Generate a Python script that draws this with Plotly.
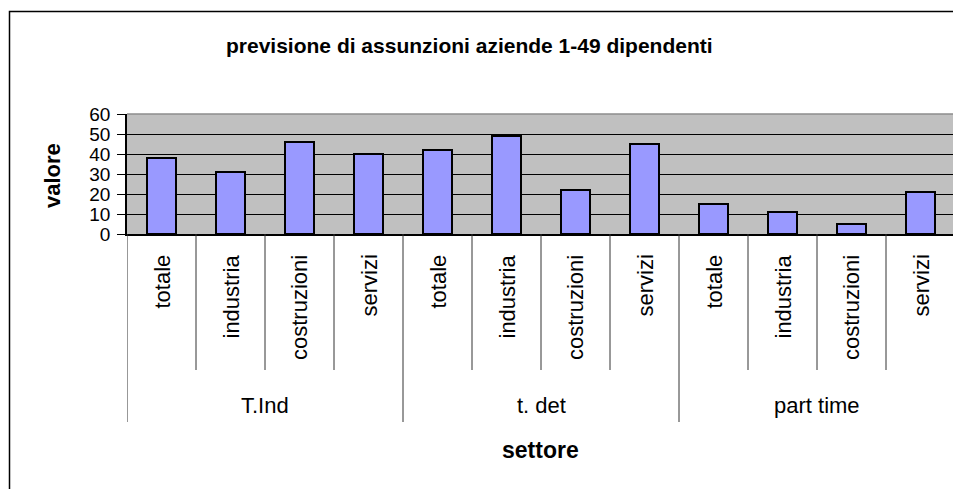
import plotly.graph_objects as go

groups = ["T.Ind", "t. det", "part time"]
sectors = ["totale", "industria", "costruzioni", "servizi"]
values = [38, 31, 46, 40, 42, 49, 22, 45, 15, 11, 5, 21]
y_ticks = [0, 10, 20, 30, 40, 50, 60]

FONT = "Arial, 'Liberation Sans', sans-serif"
OFF = 8  # page body margin offset
W, H = 961 - OFF, 489 - OFF
L, R, T = 127 - OFF, 6, 114 - OFF
PW = W - L - R
PH = 120
B = H - T - PH

def px_x(px):
    return (px - OFF - L) / PW

def px_y(py):
    return (T + PH - (py - OFF)) / PH

n = len(groups) * len(sectors)
xs = list(range(n))

fig = go.Figure()
fig.add_trace(go.Bar(
    x=xs, y=values, width=0.43,
    marker=dict(color="#9999FF", line=dict(color="black", width=2)),
    hoverinfo="y",
))

annotations = []
shapes = []

# sub-category labels and dividers
for i in range(n):
    annotations.append(dict(
        x=i, xref="x", y=px_y(253), yref="paper",
        text=sectors[i % len(sectors)], textangle=-90,
        showarrow=False, xanchor="center", yanchor="top",
        font=dict(family=FONT, size=22, color="black"),
    ))
for i in range(n + 1):
    is_group = (i % len(sectors) == 0)
    shapes.append(dict(
        type="line", xref="x", yref="paper",
        x0=i - 0.5, x1=i - 0.5,
        y0=px_y(234), y1=px_y(422 if is_group else 370),
        line=dict(color="#333333", width=1),
    ))
# group labels
for g, name in enumerate(groups):
    cx = g * len(sectors) + (len(sectors) - 1) / 2
    annotations.append(dict(
        x=cx, xref="x", y=px_y(405), yref="paper",
        text=name, showarrow=False, xanchor="center", yanchor="middle",
        font=dict(family=FONT, size=22, color="black"),
    ))

# axis titles and chart title
annotations.append(dict(
    x=px_x(540), xref="paper", y=px_y(450), yref="paper",
    text="<b>settore</b>", showarrow=False, xanchor="center", yanchor="middle",
    font=dict(family=FONT, size=23, color="black"),
))
annotations.append(dict(
    x=px_x(52), xref="paper", y=px_y(176), yref="paper",
    text="<b>valore</b>", textangle=-90, showarrow=False,
    xanchor="center", yanchor="middle",
    font=dict(family=FONT, size=22, color="black"),
))
annotations.append(dict(
    x=px_x(469), xref="paper", y=px_y(45), yref="paper",
    text="<b>previsione di assunzioni aziende 1-49 dipendenti</b>",
    showarrow=False, xanchor="center", yanchor="middle",
    font=dict(family=FONT, size=21, color="black"),
))

# plot area border (top/right gray)
shapes.append(dict(type="line", xref="paper", yref="paper",
                   x0=0, x1=1, y0=1, y1=1, line=dict(color="#8c8c8c", width=1.5)))
shapes.append(dict(type="line", xref="paper", yref="paper",
                   x0=1, x1=1, y0=0, y1=1, line=dict(color="#8c8c8c", width=1.5)))
# chart outer border
shapes.append(dict(type="rect", xref="paper", yref="paper",
                   x0=px_x(9.5), x1=px_x(990), y0=px_y(11.5), y1=px_y(520),
                   line=dict(color="black", width=1.5), fillcolor="rgba(0,0,0,0)"))

fig.update_layout(
    width=W, height=H,
    margin=dict(l=L, r=R, t=T, b=B),
    paper_bgcolor="white",
    plot_bgcolor="#C0C0C0",
    showlegend=False,
    bargap=0,
    xaxis=dict(
        range=[-0.5, n - 0.5], showticklabels=False, showgrid=False,
        zeroline=False, showline=True, linecolor="black", linewidth=1.5,
        ticks="", fixedrange=True,
    ),
    yaxis=dict(
        range=[0, 60], tickvals=y_ticks, ticktext=[str(v) for v in y_ticks],
        showgrid=True, gridcolor="black", gridwidth=1,
        zeroline=False, showline=True, linecolor="black", linewidth=1.5,
        ticks="outside", ticklen=8, tickcolor="black", tickwidth=1,
        tickfont=dict(family=FONT, size=19, color="black"),
        ticklabelstandoff=3,
    ),
    annotations=annotations,
    shapes=shapes,
)

fig.write_html("out.html")
